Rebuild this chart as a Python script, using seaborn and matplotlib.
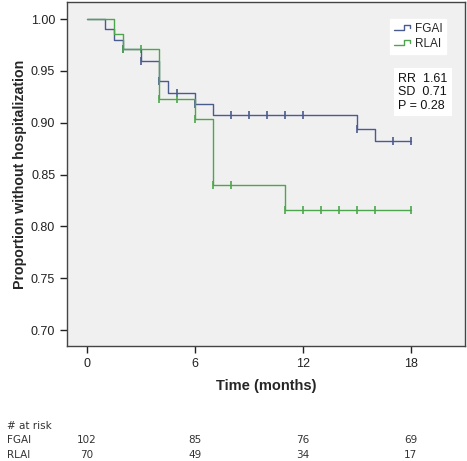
import numpy as np
import pandas as pd
import seaborn as sns
import matplotlib
matplotlib.use("Agg")
import matplotlib.pyplot as plt
import matplotlib.transforms as mtransforms
from matplotlib.lines import Line2D
from matplotlib.legend_handler import HandlerBase

# ------------------- Data -------------------
groups = ["FGAI", "RLAI"]

fgai_time = [0, 1, 1.5, 2, 3, 4, 4.5, 6, 7, 15, 16, 18]
fgai_surv = [1.0, 0.990, 0.980, 0.971, 0.960, 0.940, 0.929, 0.918, 0.907, 0.894, 0.882, 0.882]
fgai_cens_time = [2, 3, 4, 5, 6, 8, 9, 10, 11, 12, 15, 17, 18]
fgai_cens_surv = [0.971, 0.960, 0.940, 0.929, 0.918, 0.907, 0.907, 0.907, 0.907, 0.907, 0.894, 0.882, 0.882]

rlai_time = [0, 1.5, 2, 4, 6, 7, 11, 18]
rlai_surv = [1.0, 0.986, 0.971, 0.923, 0.904, 0.840, 0.816, 0.816]
rlai_cens_time = [2, 3, 4, 5, 6, 7, 8, 11, 12, 13, 14, 15, 16, 18]
rlai_cens_surv = [0.971, 0.971, 0.923, 0.923, 0.904, 0.840, 0.840, 0.816, 0.816, 0.816, 0.816, 0.816, 0.816, 0.816]

x_ticks = [0, 6, 12, 18]
y_ticks = [0.70, 0.75, 0.80, 0.85, 0.90, 0.95, 1.00]
risk_fgai = [102, 85, 76, 69]
risk_rlai = [70, 49, 34, 17]
stats_text = "RR  1.61\nSD  0.71\nP = 0.28"

colors = {"FGAI": "#4a5b8e", "RLAI": "#4da64d"}


# ------------------- Legend handler drawing a small step -------------------
class StepHandler(HandlerBase):
    def create_artists(self, legend, orig_handle, xdescent, ydescent,
                       width, height, fontsize, trans):
        w, h = width, height
        xs = [0, 0.5 * w, 0.5 * w, 0.85 * w, 0.85 * w]
        ys = [0.3 * h, 0.3 * h, 0.85 * h, 0.85 * h, 0.5 * h]
        ln = Line2D(np.array(xs) - xdescent, np.array(ys) - ydescent,
                    color=orig_handle.get_color(), lw=1.0, transform=trans)
        return [ln]


# ------------------- Plot -------------------
sns.set_style("white")
plt.rcParams['font.family'] = ['Liberation Sans', 'DejaVu Sans']

fig = plt.figure(figsize=(4.67, 4.61), dpi=100)
ax = fig.add_axes([0.1435, 0.2495, 0.852, 0.746])
ax.set_facecolor("#f0f0f0")

curves = pd.concat([
    pd.DataFrame({"time": fgai_time, "surv": fgai_surv, "group": "FGAI"}),
    pd.DataFrame({"time": rlai_time, "surv": rlai_surv, "group": "RLAI"}),
])
cens = pd.concat([
    pd.DataFrame({"time": fgai_cens_time, "surv": fgai_cens_surv, "group": "FGAI"}),
    pd.DataFrame({"time": rlai_cens_time, "surv": rlai_cens_surv, "group": "RLAI"}),
])

for g in groups:
    sns.lineplot(data=curves[curves.group == g], x="time", y="surv",
                 drawstyle="steps-post", color=colors[g], lw=1.0,
                 estimator=None, sort=False, ax=ax, legend=False)
    sns.scatterplot(data=cens[cens.group == g], x="time", y="surv",
                    marker="|", s=35, linewidth=1.2, color=colors[g],
                    ax=ax, legend=False)

ax.set_xlim(-1.12, 21.0)
ax.set_ylim(0.6846, 1.0164)
ax.set_xticks(x_ticks)
ax.set_yticks(y_ticks)
ax.set_yticklabels([f"{v:.2f}" for v in y_ticks])
ax.tick_params(axis="both", direction="out", length=5, width=1,
               labelsize=9, colors="#222222", left=True, bottom=True)
ax.tick_params(axis="x", pad=4)

for sp in ax.spines.values():
    sp.set_color("#444444")
    sp.set_linewidth(1.0)

ax.set_xlabel("Time (months)", fontsize=10.5, fontweight="bold", labelpad=6)
ax.set_ylabel("Proportion without hospitalization", fontsize=10.2,
              fontweight="bold", labelpad=3)

# legend
handles = [Line2D([], [], color=colors[g]) for g in groups]
leg = ax.legend(handles, groups, loc="upper right", bbox_to_anchor=(0.968, 0.968),
                handler_map={Line2D: StepHandler()}, fontsize=8.5,
                frameon=True, fancybox=False, framealpha=1, edgecolor="white",
                handlelength=1.6, handletextpad=0.1, borderpad=0.35,
                labelspacing=0.25)

# stats box
ax.text(0.832, 0.795, stats_text, transform=ax.transAxes, ha="left", va="top",
        fontsize=9, linespacing=1.2, color="#111111",
        bbox=dict(facecolor="white", edgecolor="none", pad=3))

# risk table
trans = mtransforms.blended_transform_factory(ax.transData, fig.transFigure)
tfont = dict(fontsize=7.5, color="#333333", family="DejaVu Sans")
fig.text(0.015, 0.077, "# at risk", va="center", **tfont)
fig.text(0.015, 0.046, "FGAI", va="center", **tfont)
fig.text(0.015, 0.012, "RLAI", va="center", **tfont)
for x, a, b in zip(x_ticks, risk_fgai, risk_rlai):
    fig.text(x, 0.046, str(a), transform=trans, ha="center", va="center", **tfont)
    fig.text(x, 0.012, str(b), transform=trans, ha="center", va="center", **tfont)

fig.savefig("out.png", dpi=100)
